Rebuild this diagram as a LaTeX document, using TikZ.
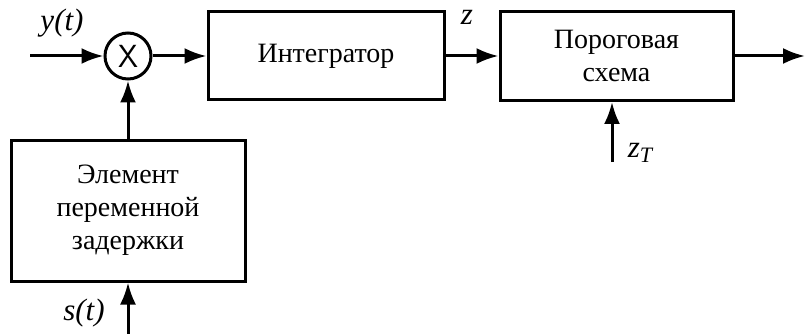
\documentclass[tikz,border=0pt]{standalone}
\usepackage{fontspec}
\setmainfont{Liberation Serif}
\usetikzlibrary{arrows.meta,positioning}
\tikzset{
  block/.style   = {rectangle, draw=black, line width=3pt, align=center,
                    minimum width=#1, inner sep=4pt,
                    font=\fontsize{28}{33}\selectfont},
  mixer/.style   = {circle, draw=black, line width=3pt, minimum size=46pt,
                    inner sep=0pt, font=\sffamily\fontsize{32}{34}\selectfont},
  flow/.style    = {-{Latex[length=22pt,width=16pt]}, line width=3pt},
  siglab/.style  = {font=\itshape\fontsize{31}{34}\selectfont, inner sep=1pt},
}

\begin{document}
\begin{tikzpicture}[x=1pt, y=1pt]
  \useasboundingbox (0,0) rectangle (805,-334);

  \node[mixer] (mult) at (128,-56) {X};
  \node[block=236pt, minimum height=88pt, right=54pt of mult] (integ) {Интегратор};
  \node[block=233pt, minimum height=89pt, right=53pt of integ] (thresh)
       {Пороговая\\ схема};
  \node[block=234pt, minimum height=141pt, below=58pt of mult] (delay)
       {Элемент\\ переменной\\ задержки};

  \coordinate (yin)  at (30,-56);
  \coordinate (sin)  at (128,-334);
  \coordinate (zin)  at (612,-162);
  \coordinate (out)  at (805,-56);

  \draw[flow] (yin) -- (mult);
  \draw[flow] (mult) -- (integ);
  \draw[flow] (integ) -- (thresh);
  \draw[flow] (thresh) -- (out);
  \draw[flow] (delay) -- (mult);
  \draw[flow] (sin) -- (delay);
  \draw[flow] (zin) -- (zin |- thresh.south);

  \node[siglab] (ylab) at (62,-23) {y(t)};
  \node[siglab] (slab) at (84,-313) {s(t)};
  \node[siglab] (zlab) at (467,-17) {z};
  \node[siglab] (ztlab) at (640,-153)
       {z\raisebox{-0.4ex}{\fontsize{22}{24}\selectfont T}};
\end{tikzpicture}
\end{document}
